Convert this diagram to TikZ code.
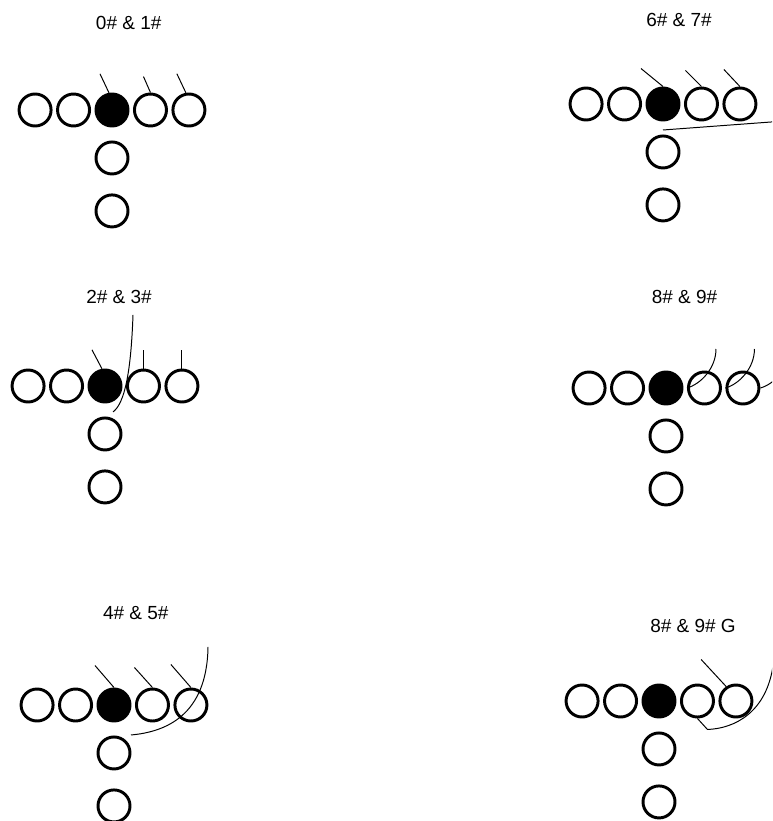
\documentclass[tikz,border=0pt]{standalone}
\usepackage{fontspec}
\setmainfont{Liberation Sans}
\usetikzlibrary{positioning}

% one line-up: center (filled), guards, tackles, back and fullback
\newcommand{\lineup}[3]{%
  \node[ballbox] (#1-c) at (#2,#3) {};
  \node[playerbox, left=0.0875cm of #1-c] (#1-lg) {};
  \node[playerbox, left=0.0875cm of #1-lg] (#1-lt) {};
  \node[playerbox, right=0.0875cm of #1-c] (#1-rg) {};
  \node[playerbox, right=0.0875cm of #1-rg] (#1-rt) {};
  \node[playerbox, below=0.325cm of #1-c] (#1-qb) {};
  \node[playerbox, below=0.45cm of #1-qb] (#1-fb) {};
}

\begin{document}
\begin{tikzpicture}[
  x=0.025cm, y=-0.025cm,
  playerbox/.style={circle, draw, line width=2.1pt, minimum size=0.8cm, inner sep=0pt},
  ballbox/.style={playerbox, fill=black},
  track/.style={line width=0.7pt},
  caption/.style={font=\fontsize{13.5}{16}\selectfont}
]
  \clip (0,0) rectangle (772,821);

  \node[caption] (lbl-g1) at (128.7,23) {0\# \& 1\#};
  \node[caption] (lbl-g2) at (679,20) {6\# \& 7\#};
  \node[caption] (lbl-g3) at (119,297) {2\# \& 3\#};
  \node[caption] (lbl-g4) at (684.5,297) {8\# \& 9\#};
  \node[caption] (lbl-g5) at (135.8,613.5) {4\# \& 5\#};
  \node[caption] (lbl-g6) at (693,625.5) {8\# \& 9\# G};

  \lineup{g1}{112}{110}
  \lineup{g2}{663}{104}
  \lineup{g3}{105}{386}
  \lineup{g4}{666}{388}
  \lineup{g5}{114}{705}
  \lineup{g6}{659}{701}

  % 0# & 1#
  \draw[track] (g1-c.100) -- ++(-9,-19);
  \draw[track] (g1-rg.north) -- ++(-7,-16);
  \draw[track] (g1-rt.100) -- ++(-9,-19);

  % 6# & 7#
  \draw[track] (g2-c.north) -- ++(-22,-18);
  \draw[track] (g2-rg.north) -- ++(-16,-16);
  \draw[track] (g2-rt.north) -- ++(-16,-17);
  \draw[track] (g2-qb.north) ++(0,-4.5) -- ++(115,-8.5);

  % 2# & 3#
  \draw[track] (g3-c.100) -- ++(-10,-19);
  \draw[track] (g3-rg.north) -- ++(0,-19);
  \draw[track] (g3-rt.north) -- ++(0,-19);
  \draw[track] (g3-qb.center) ++(8,-22) .. controls +(12,-9) and +(-2,56) .. ++(20,-97);

  % 8# & 9#
  \draw[track] (g4-rg.west) .. controls +(14,-4) and +(0,19) .. ++(29,-39);
  \draw[track] (g4-rt.west) .. controls +(14,-4) and +(0,19) .. ++(29,-39);
  \draw[track] (g4-rt.east) .. controls +(14,-4) and +(0,19) .. ++(29,-39);

  % 4# & 5#
  \draw[track] (g5-c.north) -- ++(-19,-22);
  \draw[track] (g5-rg.north) -- ++(-18,-20);
  \draw[track] (g5-rt.north) -- ++(-20,-23);
  \draw[track] (g5-qb.center) ++(17,-18) .. controls +(34,-3) and +(-1,69) .. ++(77,-88);

  % 8# & 9# G
  \draw[track] (g6-rt.124) -- ++(-25,-27);
  \draw[track] (g6-rg.south) -- ++(10,11) .. controls +(27,-1) and +(-6,50) .. ++(66,-67);
\end{tikzpicture}
\end{document}
